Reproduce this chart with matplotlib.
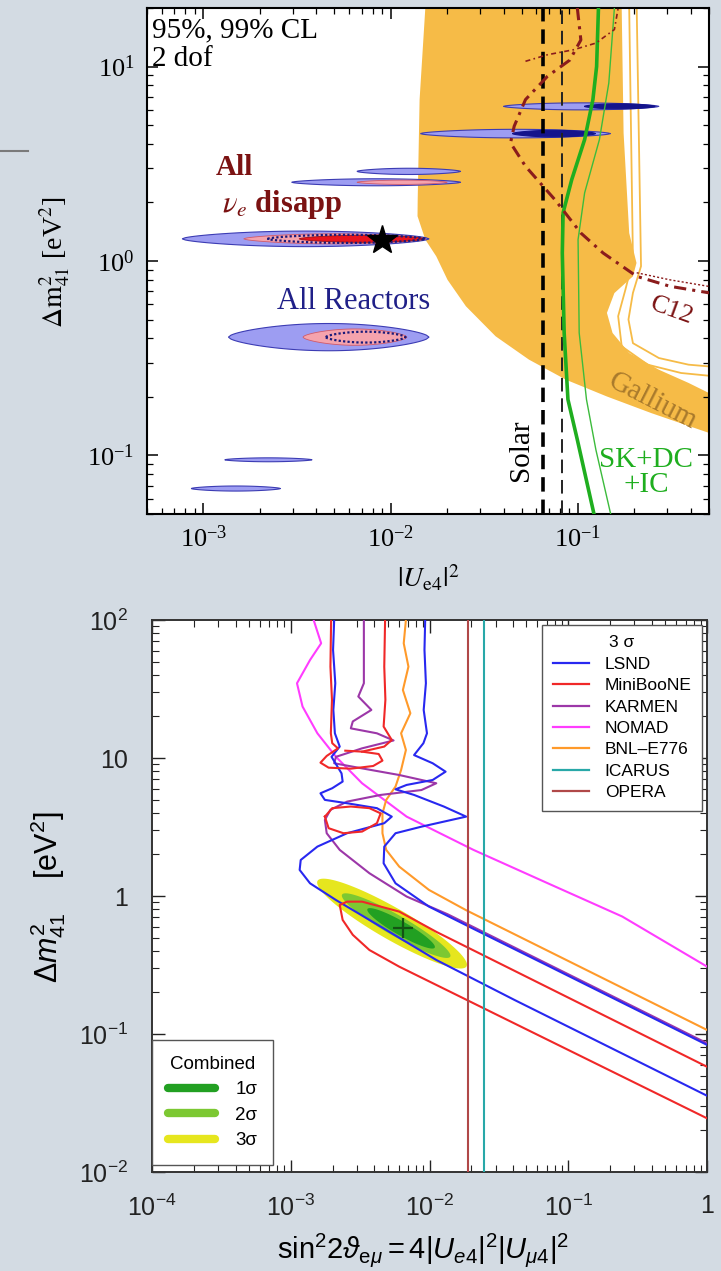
import numpy as np
import matplotlib.pyplot as plt
from matplotlib.lines import Line2D
from matplotlib.ticker import NullFormatter

plt.rcParams['font.family'] = ['Liberation Sans', 'DejaVu Sans']
plt.rcParams['mathtext.fontset'] = 'custom'
plt.rcParams['mathtext.rm'] = 'Liberation Sans'
plt.rcParams['mathtext.it'] = 'Liberation Sans:italic'
plt.rcParams['mathtext.bf'] = 'Liberation Sans:bold'
plt.rcParams['mathtext.fallback'] = 'stixsans'

# ---------------- upper panel: |U_e4|^2 vs dm41^2 ----------------
gallium_x = [0.0153, 0.01426, 0.01393, 0.0139, 0.0153, 0.0175, 0.0201, 0.0252, 0.0363,
             0.0547, 0.0863, 0.1426, 0.2466, 0.5, 0.5, 0.389, 0.270, 0.1875, 0.1528,
             0.1426, 0.1563, 0.1963, 0.2051, 0.1875, 0.1750, 0.1710]
gallium_y = [20.0, 6.76, 2.065, 1.70, 1.288, 1.057, 0.80, 0.585, 0.410, 0.311, 0.245,
             0.201, 0.165, 0.1306, 0.2094, 0.236, 0.276, 0.3365, 0.4266, 0.541, 0.684,
             0.834, 0.977, 1.393, 4.55, 20.0]
gal99a_x = [0.1875, 0.1963, 0.179, 0.1637, 0.171, 0.2355, 0.3548, 0.5]
gal99a_y = [20, 1.016, 0.713, 0.520, 0.364, 0.293, 0.2655, 0.257]
gal99b_x = [0.2056, 0.2168, 0.1963, 0.1858, 0.1963, 0.270, 0.389, 0.5]
gal99b_y = [20, 0.940, 0.6855, 0.500, 0.378, 0.317, 0.293, 0.287]

atm_x = [0.1285, 0.1256, 0.12, 0.1084, 0.0925, 0.0832, 0.0824, 0.0843, 0.0883, 0.0991, 0.1216]
atm_y = [20, 10.0, 6.76, 4.21, 2.62, 1.77, 1.10, 0.427, 0.194, 0.1205, 0.05]
atm99_x = [0.1563, 0.1459, 0.130, 0.1084, 0.100, 0.1014, 0.1109, 0.1245, 0.1493]
atm99_y = [20, 8.22, 4.21, 2.24, 1.288, 0.427, 0.194, 0.107, 0.05]

c12_x = [0.0991, 0.1035, 0.0904, 0.0687, 0.0524, 0.0456, 0.0436, 0.0524, 0.0753,
         0.1035, 0.1361, 0.2056, 0.3097, 0.5]
c12_y = [20, 13.7, 10.8, 8.91, 6.76, 4.93, 4.05, 3.07, 2.065, 1.393, 1.099, 0.834, 0.741, 0.686]
c12b_x = [0.0524, 0.0687, 0.0946, 0.1245, 0.1563, 0.1637]
c12b_y = [10.64, 11.5, 12.2, 13.2, 15.5, 20]
c12c_x = [0.2056, 0.3097, 0.5]
c12c_y = [0.87, 0.80, 0.74]

solar_95 = 0.065
solar_99 = 0.082

# reactor / disappearance islands: (x_lo, x_hi, dm2, half thickness in decades)
react99 = [(0.040, 0.27, 6.24, 0.018), (0.0144, 0.149, 4.52, 0.022),
           (0.0066, 0.0236, 2.89, 0.016), (0.00296, 0.0236, 2.54, 0.018),
           (7.7e-4, 0.016, 1.30, 0.040), (0.00136, 0.016, 0.406, 0.07),
           (0.0013, 0.0038, 0.095, 0.010), (8.6e-4, 0.00258, 0.0676, 0.013)]
react95 = [(0.108, 0.258, 6.24, 0.013), (0.0446, 0.124, 4.52, 0.017)]
dis99 = [(0.0066, 0.020, 2.54, 0.011), (0.00164, 0.0153, 1.30, 0.026),
         (0.0034, 0.0122, 0.406, 0.042)]
dis_dotted = [(0.0022, 0.0153, 1.30, 0.021), (0.0045, 0.012, 0.406, 0.028)]
dis95 = [(0.00324, 0.0153, 1.30, 0.018)]
best_ue4 = 0.009
best_dm2_top = 1.28

# ---------------- lower panel: appearance ----------------
nomad_x = [1.462e-3, 1.656e-3, 1.377e-3, 1.109e-3, 1.216e-3, 1.556e-3, 2.118e-3, 3.266e-3,
           6.84e-3, 0.02075, 0.0713, 0.245, 1.0]
nomad_y = [100, 67.8, 51.3, 34.8, 23.6, 15.1, 10.2, 6.56, 3.76, 2.158, 1.236, 0.71, 0.308]

lsnd_lo_x = [2.056e-3, 2.018e-3, 2.094e-3, 2.028e-3, 2.080e-3, 2.254e-3, 1.968e-3, 2.323e-3,
             2.366e-3, 1.991e-3, 1.637e-3, 1.762e-3, 2.547e-3, 4.178e-3, 5.346e-3, 4.72e-3,
             2.547e-3, 1.556e-3, 1.180e-3, 1.159e-3, 1.377e-3, 2.118e-3, 4.446e-3, 0.01119,
             0.04093, 1.0]
lsnd_lo_y = [100, 60.7, 34.8, 22.3, 15.1, 12.1, 10.2, 7.74, 6.75, 6.04, 5.55, 4.97, 4.70,
             4.33, 3.76, 3.37, 2.85, 2.28, 1.824, 1.545, 1.236, 0.935, 0.600, 0.344,
             0.1766, 0.0357]
lsnd_hi_x = [9.31e-3, 9.20e-3, 9.42e-3, 9.08e-3, 9.59e-3, 9.04e-3, 7.74e-3, 0.01054, 0.01306,
             0.01054, 6.84e-3, 5.69e-3, 7.74e-3, 0.01268, 0.01837, 8.75e-3, 5.69e-3, 4.72e-3,
             4.67e-3, 5.69e-3, 9.91e-3, 0.02075, 0.0713, 1.0]
lsnd_hi_y = [100, 60.7, 34.8, 22.3, 15.1, 12.8, 10.5, 9.16, 7.96, 6.93, 6.38, 5.93, 5.40,
             4.45, 3.76, 3.18, 2.85, 2.28, 1.726, 1.236, 0.838, 0.578, 0.3126, 0.0834]

mb_top_x = [1.954e-3, 1.932e-3, 1.982e-3, 1.945e-3, 1.991e-3, 2.188e-3, 1.816e-3, 1.637e-3,
            1.875e-3, 2.710e-3, 3.926e-3, 4.581e-3, 4.305e-3, 3.266e-3, 2.472e-3]
mb_top_y = [100, 45.9, 26.4, 15.1, 12.8, 11.75, 10.35, 9.25, 8.51, 8.37, 8.75, 9.57, 10.69,
            11.12, 11.30]
mb_right_x = [4.786e-3, 4.72e-3, 4.81e-3, 4.67e-3, 5.346e-3, 4.72e-3, 3.266e-3]
mb_right_y = [100, 45.9, 26.4, 16.9, 13.5, 12.1, 11.12]
mb_loop_x = [1.762e-3, 1.991e-3, 2.710e-3, 3.69e-3, 4.446e-3, 4.178e-3, 3.266e-3, 2.399e-3,
             1.875e-3, 1.762e-3]
mb_loop_y = [3.76, 4.33, 4.45, 4.33, 3.97, 3.37, 2.93, 2.85, 3.10, 3.76]
mb_low_x = [1.0, 0.01119, 6.05e-3, 3.266e-3, 2.547e-3, 2.254e-3, 2.366e-3, 2.80e-3, 3.69e-3,
            6.05e-3, 1.0]
mb_low_y = [0.0579, 0.55, 0.771, 0.910, 0.910, 0.861, 0.671, 0.523, 0.406, 0.3076, 0.0245]

karmen_x = [3.365e-3, 3.365e-3, 3.069e-3, 3.811e-3, 2.80e-3, 2.710e-3, 4.178e-3, 5.508e-3,
            3.266e-3, 2.118e-3, 2.056e-3, 3.266e-3, 6.05e-3, 0.01119, 8.75e-3, 4.446e-3,
            2.547e-3, 1.932e-3, 1.762e-3, 1.816e-3, 2.254e-3, 3.69e-3, 6.84e-3, 0.01349, 1.0]
karmen_y = [100, 34.8, 27.9, 22.3, 18.4, 16.4, 15.1, 13.4, 11.75, 10.2, 9.16, 8.41, 7.53,
            6.56, 5.86, 5.40, 4.83, 4.21, 3.56, 2.85, 2.158, 1.462, 0.991, 0.738, 0.0857]

bnl_x = [6.76e-3, 6.52e-3, 7.05e-3, 6.43e-3, 7.28e-3, 6.24e-3, 6.76e-3, 6.24e-3, 5.69e-3,
         4.875e-3, 4.581e-3, 4.581e-3, 4.875e-3, 6.05e-3, 9.91e-3, 0.01837, 1.0]
bnl_y = [100, 67.8, 45.9, 31.1, 21.1, 15.1, 11.43, 8.18, 6.21, 4.97, 3.97, 2.85, 2.158,
         1.633, 1.107, 0.789, 0.107]

opera_x = 0.0189
icarus_x = 0.0247

# combined fit regions, listed 3, 2, 1 sigma: centre and half axes in decades
comb_xc = [5.37e-3, 5.75e-3, 6.24e-3]
comb_yc = [0.631, 0.610, 0.583]
comb_a = [0.62, 0.45, 0.28]
comb_b = [0.115, 0.075, 0.05]
comb_tilt = -30.0
best_fit = (6.43e-3, 0.583)

exp_names = ['LSND', 'MiniBooNE', 'KARMEN', 'NOMAD', 'BNL\u2013E776', 'ICARUS', 'OPERA']
exp_colors = ['#2828f0', '#f02828', '#9c37a8', '#ff3cff', '#ff9a2a', '#28a8a8', '#b04848']
comb_labels = ['1σ', '2σ', '3σ']
comb_colors = ['#22a022', '#7cc832', '#e6e61e']


def lens(x_lo, x_hi, yc, half, n=80):
    t = np.linspace(0, 1, n)
    lx = np.log10(x_lo) + t * (np.log10(x_hi) - np.log10(x_lo))
    w = half * np.sin(np.pi * t) ** 0.6
    xs = np.concatenate([lx, lx[::-1]])
    ys = np.log10(yc) + np.concatenate([w, -w[::-1]])
    return 10 ** xs, 10 ** ys


def log_ellipse(xc, yc, a, b, tilt, n=120):
    th = np.linspace(0, 2 * np.pi, n)
    c, s = np.cos(np.radians(tilt)), np.sin(np.radians(tilt))
    u, v = a * np.cos(th), b * np.sin(th)
    return 10 ** (np.log10(xc) + u * c - v * s), 10 ** (np.log10(yc) + u * s + v * c)


bg = '#d3dbe3'
fig = plt.figure(figsize=(7.21, 12.71), dpi=100, facecolor=bg)
ax1 = fig.add_axes([147 / 721, 1 - 514 / 1271, 562 / 721, 506 / 1271])
ax2 = fig.add_axes([152 / 721, 1 - 1172 / 1271, 555 / 721, 552 / 1271])

serif = 'Liberation Serif'
orange = '#f6bb47'

# ---- upper panel ----
ax1.set_xscale('log')
ax1.set_yscale('log')
ax1.set_xlim(5e-4, 0.5)
ax1.set_ylim(0.05, 20)

ax1.fill(gallium_x, gallium_y, color=orange, lw=0, zorder=1)
ax1.plot(gal99a_x, gal99a_y, color=orange, lw=1.3, zorder=1)
ax1.plot(gal99b_x, gal99b_y, color=orange, lw=1.3, zorder=1)

for xl, xh, yc, h in react99:
    ax1.fill(*lens(xl, xh, yc, h), facecolor='#9d9df2', edgecolor='#3c3cb4', lw=0.8, zorder=3)
for xl, xh, yc, h in react95:
    ax1.fill(*lens(xl, xh, yc, h), facecolor='#14148c', edgecolor='#14148c', lw=0.8, zorder=4)
for xl, xh, yc, h in dis99:
    ax1.fill(*lens(xl, xh, yc, h), facecolor='#f5a3ad', edgecolor='#d05a6a', lw=0.6, zorder=4)
for xl, xh, yc, h in dis95:
    ax1.fill(*lens(xl, xh, yc, h), facecolor='#e8141e', edgecolor='#a01010', lw=0.6, zorder=5)
for xl, xh, yc, h in dis_dotted:
    ax1.plot(*lens(xl, xh, yc, h), color='#1a1a7a', lw=1.6, ls=(0, (1, 1)), zorder=5)

ax1.axvline(solar_95, color='k', lw=2.6, ls=(0, (4, 2.2)), zorder=6)
ax1.axvline(solar_99, color='#222222', lw=1.4, ls=(0, (7, 3.5)), zorder=6)
ax1.plot(atm_x, atm_y, color='#1fae1f', lw=2.6, zorder=6)
ax1.plot(atm99_x, atm99_y, color='#3cbb3c', lw=1.0, zorder=6)
ax1.plot(c12_x, c12_y, color='#8b1c1c', lw=2.2, ls=(0, (4, 2, 1, 2)), zorder=6)
ax1.plot(c12b_x, c12b_y, color='#8b1c1c', lw=1.2, ls=(0, (3, 2, 1, 2)), zorder=6)
ax1.plot(c12c_x, c12c_y, color='#8b1c1c', lw=1.0, ls=(0, (1.5, 1.5)), zorder=6)
ax1.plot(best_ue4, best_dm2_top, marker='*', ms=22, color='k', zorder=8)

ax1.text(0.009, 0.982, '95%, 99% CL\n2 dof', transform=ax1.transAxes, ha='left', va='top',
         fontsize=21, family=serif, linespacing=1.12, zorder=9)
ax1.text(0.155, 0.684, 'All', transform=ax1.transAxes, ha='center', va='center',
         fontsize=21, family=serif, weight='bold', color='#7b1212', zorder=9)
ax1.text(0.24, 0.611, r'$\nu_e$ disapp', transform=ax1.transAxes, ha='center', va='center',
         fontsize=22, family=serif, weight='bold', color='#7b1212', zorder=9,
         math_fontfamily='stix')
ax1.text(0.367, 0.419, 'All Reactors', transform=ax1.transAxes, ha='center', va='center',
         fontsize=22, family=serif, color='#202088', zorder=9)
ax1.text(0.665, 0.126, 'Solar', transform=ax1.transAxes, ha='center', va='center',
         fontsize=21, family=serif, rotation=90, color='k', zorder=9)
ax1.text(0.888, 0.082, 'SK+DC\n+IC', transform=ax1.transAxes, ha='center', va='center',
         fontsize=21, family=serif, color='#1fae1f', linespacing=0.92, zorder=9)
ax1.text(0.934, 0.401, 'C12', transform=ax1.transAxes, ha='center', va='center',
         fontsize=19, family=serif, rotation=-20, color='#7b1212', zorder=9)
ax1.text(0.899, 0.222, 'Gallium', transform=ax1.transAxes, ha='center', va='center',
         fontsize=21, family=serif, rotation=-27, color='#a97a2c', zorder=9)

ax1.tick_params(which='both', direction='in', top=True, right=True, labelsize=19,
                labelfontfamily=serif)
ax1.tick_params(which='major', length=8, width=1.1)
ax1.tick_params(which='minor', length=4, width=0.9)
ax1.tick_params(axis='x', pad=8)
ax1.tick_params(axis='y', pad=9)
ax1.xaxis.set_minor_formatter(NullFormatter())
ax1.yaxis.set_minor_formatter(NullFormatter())
for sp in ax1.spines.values():
    sp.set_linewidth(1.5)

fig.text(0.5936, 0.5452, r'$|U_{\mathrm{e}4}|^2$', ha='center', va='center', fontsize=20,
         family=serif, math_fontfamily='stix')
fig.text(0.076, 0.794, r'$\Delta\mathrm{m}^2_{41}$ [eV$^2$]', ha='center', va='center',
         rotation=90, fontsize=20, family=serif, math_fontfamily='stix')
fig.add_artist(Line2D([0, 28 / 721], [1 - 151 / 1271] * 2, color='#7a7a7a', lw=1.5))

# ---- lower panel ----
ax2.set_xscale('log')
ax2.set_yscale('log')
ax2.set_xlim(1e-4, 1)
ax2.set_ylim(1e-2, 1e2)

for xc, yc, a, b, col in zip(comb_xc, comb_yc, comb_a, comb_b, comb_colors[::-1]):
    ax2.fill(*log_ellipse(xc, yc, a, b, comb_tilt), color=col, lw=0, zorder=2)
ax2.plot(*best_fit, marker='+', ms=14, mew=1.6, color='#145214', zorder=6)

lw = 1.5
curves = [(nomad_x, nomad_y, 3), (bnl_x, bnl_y, 4), (karmen_x, karmen_y, 2),
          (lsnd_lo_x, lsnd_lo_y, 0), (lsnd_hi_x, lsnd_hi_y, 0),
          (mb_top_x, mb_top_y, 1), (mb_right_x, mb_right_y, 1),
          (mb_loop_x, mb_loop_y, 1), (mb_low_x, mb_low_y, 1)]
for cx, cy, k in curves:
    ax2.plot(cx, cy, color=exp_colors[k], lw=lw, solid_joinstyle='round', zorder=3)
ax2.axvline(icarus_x, color=exp_colors[5], lw=lw, zorder=4)
ax2.axvline(opera_x, color=exp_colors[6], lw=lw, zorder=4)

ax2.set_xticks([1e-4, 1e-3, 1e-2, 1e-1, 1],
               [r'$\mathdefault{10^{-4}}$', r'$\mathdefault{10^{-3}}$', r'$\mathdefault{10^{-2}}$',
                r'$\mathdefault{10^{-1}}$', '1'])
ax2.set_yticks([1e-2, 1e-1, 1, 10, 100],
               [r'$\mathdefault{10^{-2}}$', r'$\mathdefault{10^{-1}}$', '1', '10',
                r'$\mathdefault{10^{2}}$'])
ax2.xaxis.set_minor_formatter(NullFormatter())
ax2.yaxis.set_minor_formatter(NullFormatter())
ax2.tick_params(which='both', direction='in', top=True, right=True, labelsize=18,
                labelfontfamily='Liberation Sans', colors='#222222')
ax2.tick_params(which='major', length=9, width=1.0)
ax2.tick_params(which='minor', length=5, width=0.8)
ax2.tick_params(axis='x', pad=16)
ax2.tick_params(axis='y', pad=17)
for sp in ax2.spines.values():
    sp.set_linewidth(1.4)
    sp.set_color('#333333')

h1 = [Line2D([], [], color=c, lw=1.6) for c in exp_colors]
leg1 = ax2.legend(h1, exp_names, title='3 σ', loc='upper right', bbox_to_anchor=(0.991, 0.991),
                  borderaxespad=0, fontsize=12.5, title_fontsize=12.5, handlelength=2.1,
                  labelspacing=0.36, handletextpad=0.9, borderpad=0.6, fancybox=False,
                  edgecolor='#555555', framealpha=1)
leg1.get_frame().set_linewidth(1.0)
ax2.add_artist(leg1)

h2 = [Line2D([], [], color=c, lw=6, solid_capstyle='round') for c in comb_colors]
leg2 = ax2.legend(h2, comb_labels, title='Combined', loc='lower left', bbox_to_anchor=(0.0, 0.012),
                  borderaxespad=0, fontsize=13.5, title_fontsize=13.5, handlelength=2.5,
                  labelspacing=0.45, handletextpad=1.1, borderpad=0.85, fancybox=False,
                  edgecolor='#555555', framealpha=1)
leg2.get_frame().set_linewidth(1.0)

fig.text(0.5867, 0.0165, r'$\mathrm{sin}^2 2\vartheta_{\mathrm{e}\mu} = 4|U_{e4}|^2|U_{\mu 4}|^2$',
         ha='center', va='center', fontsize=21)
fig.text(0.0666, 0.2943, r'$\Delta m^2_{41}$    [eV$^2$]', ha='center', va='center',
         rotation=90, fontsize=22)

fig.savefig('out.png', dpi=100, facecolor=bg)
